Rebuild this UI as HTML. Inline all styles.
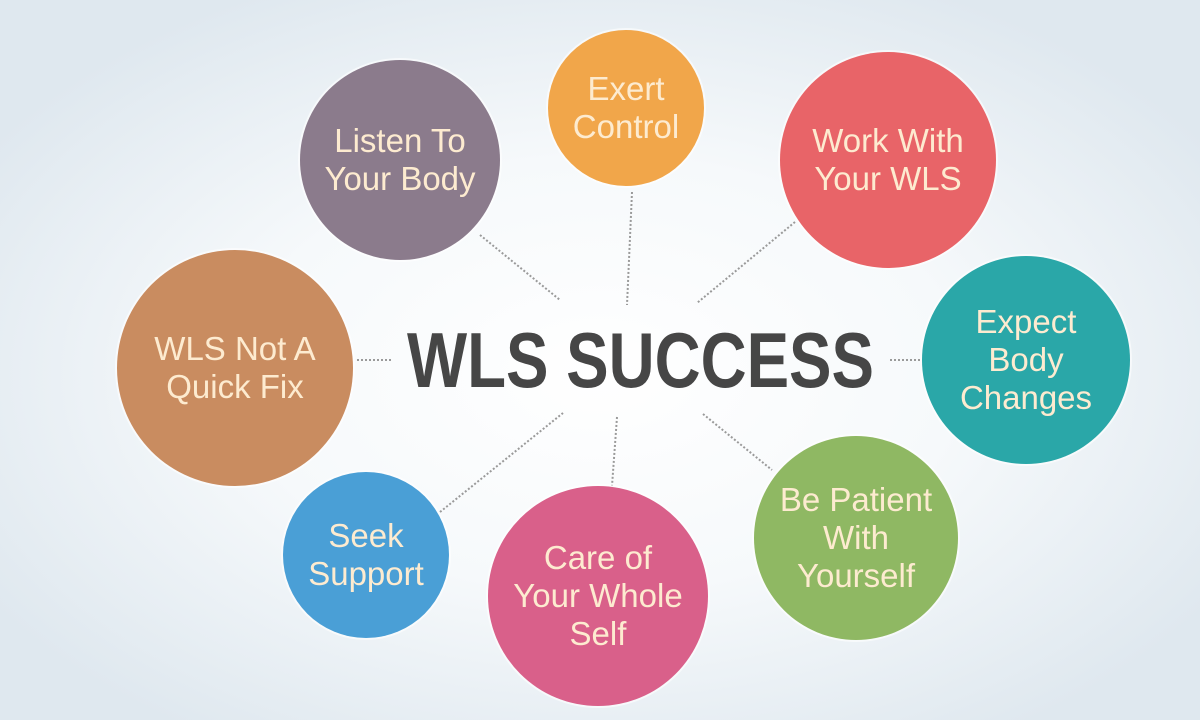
<!DOCTYPE html>
<html><head><meta charset="utf-8"><style>
html,body{margin:0;padding:0}
body{width:1200px;height:720px;overflow:hidden;background:radial-gradient(ellipse 60% 60% at 50% 52%,#ffffff 0%,#f6f9fb 50%,#dfe8ef 100%);font-family:"Liberation Sans",sans-serif;position:relative}
.c{position:absolute;border-radius:50%;display:flex;align-items:center;justify-content:center;text-align:center;color:#fdebd0;font-size:33px;line-height:38px;box-shadow:0 0 0 2px rgba(255,255,255,0.6)}
</style></head><body>
<svg width="1200" height="720" style="position:absolute;left:0;top:0">
<g stroke="#9a9a9a" stroke-width="2" stroke-dasharray="2 2" fill="none">
<line x1="480" y1="235" x2="560" y2="300"/>
<line x1="632" y1="192" x2="627" y2="305"/>
<line x1="795" y1="222" x2="697" y2="303"/>
<line x1="357" y1="360" x2="392" y2="360"/>
<line x1="890" y1="360" x2="920" y2="360"/>
<line x1="440" y1="512" x2="563" y2="413"/>
<line x1="617" y1="417" x2="612" y2="486"/>
<line x1="703" y1="414" x2="772" y2="470"/>
</g>
<text x="407" y="387" textLength="467" lengthAdjust="spacingAndGlyphs" font-family="Liberation Sans, sans-serif" font-weight="bold" font-size="78" fill="#464646">WLS SUCCESS</text>
</svg>
<div class="c" style="left:548px;top:30px;width:156px;height:156px;background:#f1a64a">Exert<br>Control</div>
<div class="c" style="left:300px;top:60px;width:200px;height:200px;background:#8b7b8c">Listen To<br>Your Body</div>
<div class="c" style="left:780px;top:52px;width:216px;height:216px;background:#e86468">Work With<br>Your WLS</div>
<div class="c" style="left:117px;top:250px;width:236px;height:236px;background:#c98c60">WLS Not A<br>Quick Fix</div>
<div class="c" style="left:922px;top:256px;width:208px;height:208px;background:#2aa7a8">Expect<br>Body<br>Changes</div>
<div class="c" style="left:283px;top:472px;width:166px;height:166px;background:#4a9fd6">Seek<br>Support</div>
<div class="c" style="left:488px;top:486px;width:220px;height:220px;background:#d9608a">Care of<br>Your Whole<br>Self</div>
<div class="c" style="left:754px;top:436px;width:204px;height:204px;background:#8fb863">Be Patient<br>With<br>Yourself</div>
</body></html>
